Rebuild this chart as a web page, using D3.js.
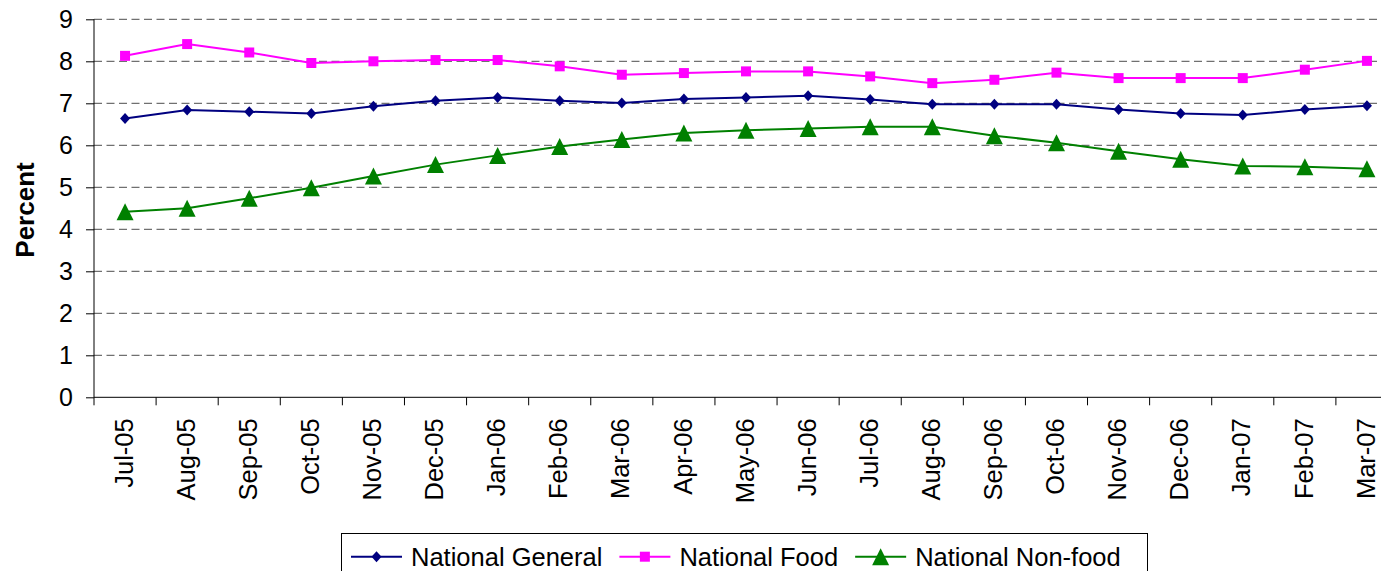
<!DOCTYPE html>
<html>
<head>
<meta charset="utf-8">
<script src="https://cdn.jsdelivr.net/npm/d3@7"></script>
<style>
  body { margin: 0; background: #fff; }
  svg { display: block; font-family: "Liberation Sans", Arial, sans-serif; }
</style>
</head>
<body>
<div id="chart"></div>
<script>
// data
const months = ["Jul-05", "Aug-05", "Sep-05", "Oct-05", "Nov-05", "Dec-05", "Jan-06",
  "Feb-06", "Mar-06", "Apr-06", "May-06", "Jun-06", "Jul-06", "Aug-06", "Sep-06",
  "Oct-06", "Nov-06", "Dec-06", "Jan-07", "Feb-07", "Mar-07"];
const general = [6.64, 6.84, 6.80, 6.76, 6.93, 7.06, 7.14, 7.06, 7.01, 7.10, 7.14,
  7.18, 7.09, 6.98, 6.98, 6.98, 6.85, 6.76, 6.72, 6.85, 6.94];
const food = [8.13, 8.41, 8.21, 7.96, 8.00, 8.03, 8.03, 7.88, 7.68, 7.72, 7.76,
  7.76, 7.64, 7.48, 7.56, 7.73, 7.60, 7.60, 7.60, 7.80, 8.01];
const nonFood = [4.42, 4.50, 4.74, 4.99, 5.27, 5.54, 5.76, 5.97, 6.14, 6.29, 6.36,
  6.40, 6.44, 6.44, 6.23, 6.06, 5.86, 5.67, 5.51, 5.49, 5.44];
const yTicks = [0, 1, 2, 3, 4, 5, 6, 7, 8, 9];
const seriesNames = ["National General", "National Food", "National Non-food"];

const series = [
  {name: seriesNames[0], values: general, color: "#000080", marker: "diamond"},
  {name: seriesNames[1], values: food, color: "#FF00FF", marker: "square"},
  {name: seriesNames[2], values: nonFood, color: "#008000", marker: "triangle"}
];

// dimensions
const W = 1381, H = 571;
const margin = {top: 19.3, left: 94};
const width = 1304;   // plot runs past the right edge of the picture
const height = 378;

const svg = d3.select("#chart")
  .append("svg")
    .attr("width", W)
    .attr("height", H);

const g = svg.append("g")
  .attr("transform", `translate(${margin.left},${margin.top})`);

// scales
const x = d3.scaleBand()
  .domain(months)
  .range([0, width])
  .padding(0);

const y = d3.scaleLinear()
  .domain([0, 9])
  .range([height, 0]);

// marker shapes
function markerPath(type) {
  if (type === "diamond") return "M0,-5.5L5,0L0,5.5L-5,0Z";
  if (type === "square") return "M-5,-5H5V5H-5Z";
  return "M0,-8.5L8.5,8.5L-8.5,8.5Z";
}

// dashed gridlines
g.append("g")
  .selectAll("line")
  .data(yTicks.filter(d => d > 0))
  .join("line")
    .attr("x1", 0)
    .attr("x2", width)
    .attr("y1", d => y(d))
    .attr("y2", d => y(d))
    .attr("stroke", "#4d4d4d")
    .attr("stroke-width", 1)
    .attr("stroke-dasharray", "8,4.5");

// y axis
g.append("g")
  .call(d3.axisLeft(y).tickValues(yTicks).tickSize(8).tickPadding(13).tickFormat(d3.format("d")))
  .call(a => a.select(".domain").attr("stroke", "#000").attr("d", `M0,${y(9)}V${y(0)}`))
  .call(a => a.selectAll(".tick line").attr("stroke", "#000"))
  .call(a => a.selectAll("text")
    .attr("font-size", 25)
    .attr("font-family", "Liberation Sans, Arial, sans-serif")
    .attr("fill", "#000"));

// x axis line and boundary ticks
g.append("line")
  .attr("x1", 0).attr("x2", width)
  .attr("y1", height).attr("y2", height)
  .attr("stroke", "#000");

g.append("g")
  .selectAll("line")
  .data(months.concat([null]))
  .join("line")
    .attr("x1", d => d === null ? x.range()[1] : x(d))
    .attr("x2", d => d === null ? x.range()[1] : x(d))
    .attr("y1", height)
    .attr("y2", height + 8)
    .attr("stroke", "#000");

// x labels
g.append("g")
  .selectAll("text")
  .data(months)
  .join("text")
    .attr("transform", d => `translate(${x(d) + x.bandwidth() / 2},${height + 21}) rotate(-90)`)
    .attr("dy", "0.3em")
    .attr("text-anchor", "end")
    .attr("font-size", 25.5)
    .attr("fill", "#000")
    .text(d => d);

// y axis title
svg.append("text")
  .attr("transform", `translate(34,210) rotate(-90)`)
  .attr("text-anchor", "middle")
  .attr("font-size", 26)
  .attr("font-weight", "bold")
  .text("Percent");

// lines and markers
const line = d3.line()
  .x((d, i) => x(months[i]) + x.bandwidth() / 2)
  .y(d => y(d));

series.forEach(s => {
  g.append("path")
    .datum(s.values)
    .attr("fill", "none")
    .attr("stroke", s.color)
    .attr("stroke-width", 2)
    .attr("d", line);

  g.append("g")
    .selectAll("path")
    .data(s.values)
    .join("path")
      .attr("transform", (d, i) => `translate(${x(months[i]) + x.bandwidth() / 2},${y(d)})`)
      .attr("d", markerPath(s.marker))
      .attr("fill", s.color);
});

// legend
const legend = svg.append("g");
legend.append("rect")
  .attr("x", 341.5)
  .attr("y", 533.5)
  .attr("width", 806)
  .attr("height", 60)
  .attr("fill", "#fff")
  .attr("stroke", "#000");

let lx = 351;
const ly = 556.7;
series.forEach(s => {
  const item = legend.append("g");
  item.append("line")
    .attr("x1", lx).attr("x2", lx + 51)
    .attr("y1", ly).attr("y2", ly)
    .attr("stroke", s.color)
    .attr("stroke-width", 2);
  item.append("path")
    .attr("transform", `translate(${lx + 25.5},${ly})`)
    .attr("d", markerPath(s.marker))
    .attr("fill", s.color);
  const t = item.append("text")
    .attr("x", lx + 60)
    .attr("y", ly)
    .attr("dy", "0.36em")
    .attr("font-size", 25.5)
    .attr("fill", "#000")
    .text(s.name);
  lx = lx + 60 + t.node().getComputedTextLength() + 17;
});
</script>
</body>
</html>
